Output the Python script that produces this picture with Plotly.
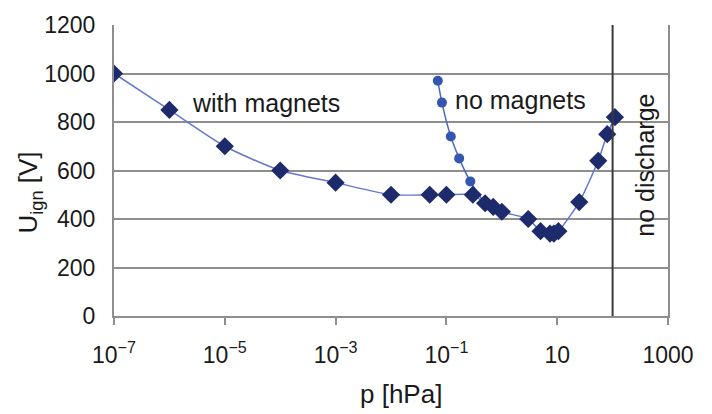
import plotly.graph_objects as go

# Ignition voltage vs. pressure
p_with = [1e-7, 1e-6, 1e-5, 1e-4, 1e-3, 1e-2, 0.05, 0.1, 0.3, 0.5, 0.7, 1.0, 3.0, 5.0, 7.4, 8.7, 10.5, 25, 55, 80, 110]
u_with = [1000, 850, 700, 600, 550, 500, 500, 500, 500, 465, 450, 430, 400, 350, 340, 340, 350, 470, 640, 750, 820]

p_none = [0.07, 0.083, 0.12, 0.17, 0.27, 0.5, 0.7, 1.0]
u_none = [970, 880, 740, 650, 555, 465, 450, 430]

x_ticks = [1e-7, 1e-5, 1e-3, 1e-1, 10, 1000]
x_ticktext = ["10<sup>\u22127</sup>", "10<sup>\u22125</sup>", "10<sup>\u22123</sup>", "10<sup>\u22121</sup>", "10", "1000"]
y_ticks = [0, 200, 400, 600, 800, 1000, 1200]

FONT = "Liberation Sans, Arial, sans-serif"
GRID = "#8e8e8e"
TXT = "#1a1a1a"

fig = go.Figure()

fig.add_trace(go.Scatter(
    x=p_none, y=u_none, mode="lines+markers",
    line=dict(color="#4a69c6", width=1.5, shape="spline", smoothing=0.6),
    marker=dict(symbol="circle", size=10, color="#3556b0"),
    showlegend=False,
))
fig.add_trace(go.Scatter(
    x=p_with, y=u_with, mode="lines+markers",
    line=dict(color="#6478cc", width=1.5, shape="spline", smoothing=0.6),
    marker=dict(symbol="diamond", size=14, color="#1d2a6c"),
    showlegend=False,
))

# boundary of the no-discharge region
fig.add_shape(type="line", xref="x", yref="paper", x0=100, x1=100, y0=0, y1=1,
              line=dict(color="#3a3a3a", width=2))

fig.add_annotation(x=-5.63, y=878, xref="x", yref="y", text="with magnets",
                   showarrow=False, xanchor="left", yanchor="middle",
                   font=dict(family=FONT, size=25, color=TXT))
fig.add_annotation(x=-0.88, y=890, xref="x", yref="y", text="no magnets",
                   showarrow=False, xanchor="left", yanchor="middle",
                   font=dict(family=FONT, size=25, color=TXT))
fig.add_annotation(x=2.58, y=623, xref="x", yref="y", text="no discharge",
                   showarrow=False, textangle=-90, xanchor="center", yanchor="middle",
                   font=dict(family=FONT, size=25, color=TXT))

# axis titles
fig.add_annotation(x=30, y=190, xref="paper", yref="paper", text="U<sub>ign</sub> [V]",
                   showarrow=False, textangle=-90, xanchor="center", yanchor="middle",
                   font=dict(family=FONT, size=26, color=TXT))
fig.add_annotation(x=401, y=396, xref="paper", yref="paper", text="p [hPa]",
                   showarrow=False, xanchor="center", yanchor="middle",
                   font=dict(family=FONT, size=26, color=TXT))

fig.update_xaxes(
    type="log", range=[-7, 3],
    tickvals=x_ticks, ticktext=x_ticktext,
    ticks="outside", ticklen=7, tickwidth=2, tickcolor=GRID,
    showgrid=False, showline=True, linecolor=GRID, linewidth=2,
    mirror=False, zeroline=False,
    tickfont=dict(family=FONT, size=23, color=TXT),
    ticklabelstandoff=10,
)
fig.update_yaxes(
    range=[0, 1200], tickvals=y_ticks,
    showgrid=True, gridcolor=GRID, gridwidth=2,
    showline=True, linecolor=GRID, linewidth=2, mirror=True,
    zeroline=False, ticks="",
    tickfont=dict(family=FONT, size=23, color=TXT),
    ticklabelstandoff=12,
)

fig.update_layout(
    width=712, height=414,
    margin=dict(l=114, r=44, t=19, b=98),
    paper_bgcolor="white", plot_bgcolor="white",
)

# convert pixel positions of the axis titles into paper coordinates
L, R, T, B = 114, 44, 19, 98
pw, ph = 712 - L - R, 414 - T - B
for ann in fig.layout.annotations:
    if ann.xref == "paper":
        ann.x = (ann.x - L) / pw
        ann.y = 1 - (ann.y - T) / ph

fig.write_html("out.html")
